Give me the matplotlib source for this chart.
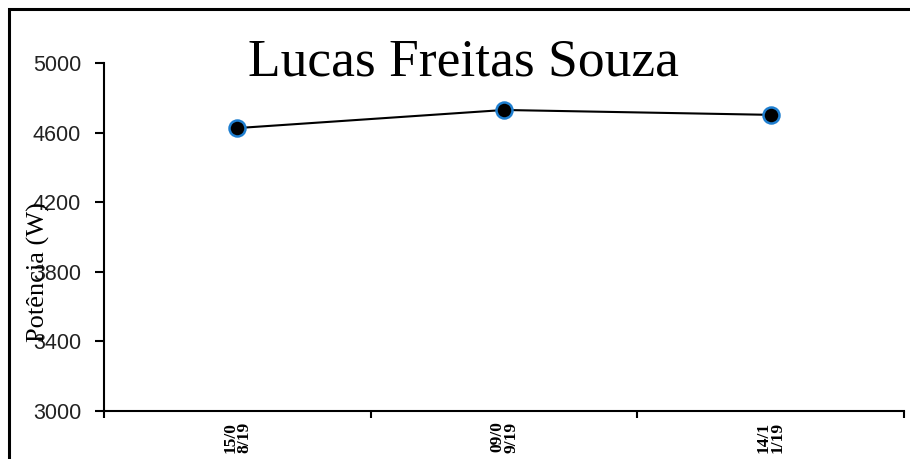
import matplotlib.pyplot as plt
from matplotlib.patches import Rectangle

# dados
datas = ["15/0\n8/19", "09/0\n9/19", "14/1\n1/19"]
potencia = [4626, 4730, 4702]
yticks = [3000, 3400, 3800, 4200, 4600, 5000]

W, H = 910, 459
fig = plt.figure(figsize=(W / 100, H / 100), dpi=100)

# moldura externa (cortada à direita e embaixo)
fig.patches.append(Rectangle((9 / W, -0.1), 1.2, 1 - 8.5 / H + 0.1,
                             transform=fig.transFigure, fill=False,
                             edgecolor="black", linewidth=2.2))

ax = fig.add_axes([104 / W, 1 - 411 / H, (904 - 104) / W, (411 - 63) / H])
x = list(range(len(datas)))
ax.plot(x, potencia, color="black", linewidth=1.5, marker="o", markersize=11.5,
        markerfacecolor="black", markeredgecolor="#1f7fd0", markeredgewidth=1.8)

ax.set_xlim(-0.5, len(datas) - 0.5)
ax.set_ylim(3000, 5000)
ax.set_yticks(yticks)
ax.set_yticklabels([str(v) for v in yticks], fontfamily="Liberation Sans", fontsize=15.5,
                   color="#222222")
ax.tick_params(axis="y", direction="out", length=6.5, width=1.5, pad=10)

ax.set_xticks([i - 0.5 for i in range(len(datas) + 1)])
ax.set_xticklabels([])
ax.tick_params(axis="x", direction="out", length=5, width=1.5)
for i, d in enumerate(datas):
    ax.text(i, -0.03, d, transform=ax.get_xaxis_transform(), rotation=90,
            ha="center", va="top", fontsize=12.5, fontweight="bold",
            fontfamily="Liberation Serif", linespacing=0.85)

for s in ["top", "right"]:
    ax.spines[s].set_visible(False)
ax.spines["left"].set_linewidth(1.5)
ax.spines["bottom"].set_linewidth(1.5)

fig.text(463 / W, 1 - 63 / H, "Lucas Freitas Souza", fontfamily="Liberation Serif",
         fontsize=38.5, ha="center", va="center")
fig.text(38 / W, 1 - 272 / H, "Potência (W)", fontfamily="Liberation Serif",
         fontsize=19, rotation=90, ha="center", va="center")

fig.savefig("out.png", dpi=100)
